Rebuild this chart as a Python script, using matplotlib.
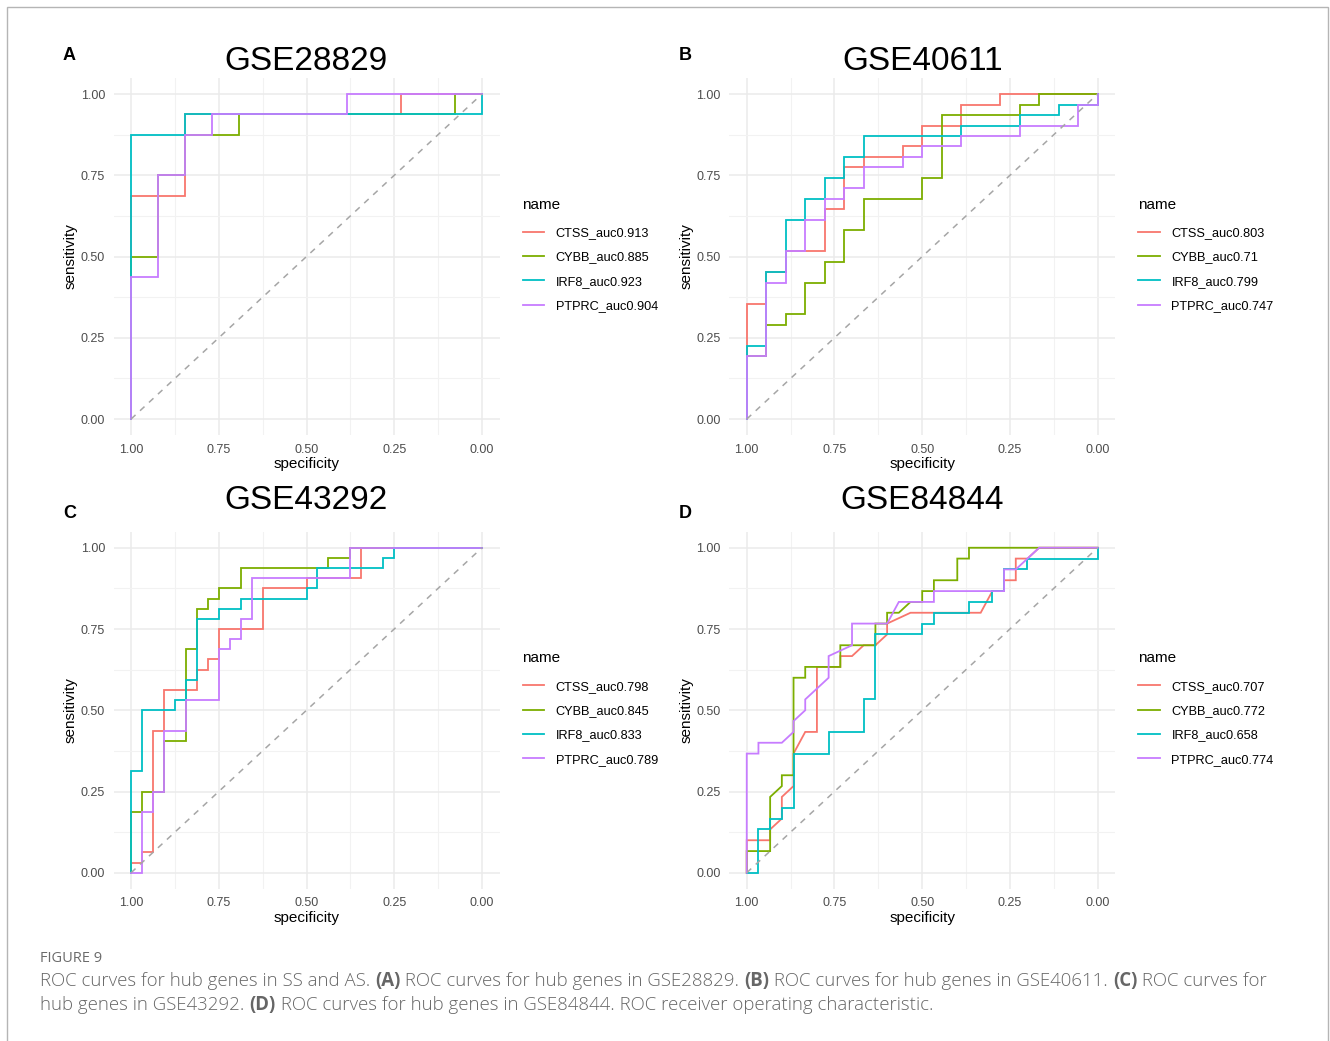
import matplotlib
matplotlib.use("Agg")
import matplotlib.pyplot as plt
from matplotlib.lines import Line2D
from matplotlib.patches import Rectangle

# ROC step paths, stored as (false-positive count, true-positive count)
genes = ["CTSS", "CYBB", "IRF8", "PTPRC"]
colors = ["#F8766D", "#7CAE00", "#00BFC4", "#C77CFF"]

# GSE28829: 13 controls, 16 cases
a_n = (13, 16)
a_auc = ["0.913", "0.885", "0.923", "0.904"]
a_ctss = [(0, 0), (0, 11), (2, 11), (2, 15), (10, 15), (10, 16), (13, 16)]
a_cybb = [(0, 0), (0, 8), (1, 8), (1, 12), (2, 12), (2, 14), (4, 14), (4, 15),
          (12, 15), (12, 16), (13, 16)]
a_irf8 = [(0, 0), (0, 14), (2, 14), (2, 15), (13, 15), (13, 16)]
a_ptprc = [(0, 0), (0, 7), (1, 7), (1, 12), (2, 12), (2, 14), (3, 14), (3, 15),
           (8, 15), (8, 16), (13, 16)]

# GSE40611: 18 controls, 31 cases
b_n = (18, 31)
b_auc = ["0.803", "0.71", "0.799", "0.747"]
b_ctss = [(0, 0), (0, 11), (1, 11), (1, 14), (2, 14), (2, 16), (4, 16), (4, 20),
          (5, 20), (5, 24), (6, 24), (6, 25), (8, 25), (8, 26), (9, 26), (9, 28),
          (11, 28), (11, 30), (13, 30), (13, 31), (18, 31)]
b_cybb = [(0, 0), (0, 6), (1, 6), (1, 9), (2, 9), (2, 10), (3, 10), (3, 13),
          (4, 13), (4, 15), (5, 15), (5, 18), (6, 18), (6, 21), (9, 21), (9, 23),
          (10, 23), (10, 29), (14, 29), (14, 30), (15, 30), (15, 31), (18, 31)]
b_irf8 = [(0, 0), (0, 7), (1, 7), (1, 14), (2, 14), (2, 19), (3, 19), (3, 21),
          (4, 21), (4, 23), (5, 23), (5, 25), (6, 25), (6, 27), (11, 27), (11, 28),
          (14, 28), (14, 29), (16, 29), (16, 30), (18, 30), (18, 31)]
b_ptprc = [(0, 0), (0, 6), (1, 6), (1, 13), (2, 13), (2, 16), (3, 16), (3, 19),
           (4, 19), (4, 21), (5, 21), (5, 22), (6, 22), (6, 24), (8, 24), (8, 25),
           (9, 25), (9, 26), (11, 26), (11, 27), (14, 27), (14, 28), (17, 28),
           (17, 30), (18, 30), (18, 31)]

# GSE43292: 32 controls, 32 cases
c_n = (32, 32)
c_auc = ["0.798", "0.845", "0.833", "0.789"]
c_ctss = [(0, 0), (0, 1), (1, 1), (1, 2), (2, 2), (2, 14), (3, 14), (3, 18),
          (6, 18), (6, 20), (7, 20), (7, 21), (8, 21), (8, 24), (12, 24), (12, 28),
          (16, 28), (16, 29), (21, 29), (21, 32), (32, 32)]
c_cybb = [(0, 0), (0, 6), (1, 6), (1, 8), (3, 8), (3, 13), (5, 13), (5, 22),
          (6, 22), (6, 26), (7, 26), (7, 27), (8, 27), (8, 28), (10, 28), (10, 30),
          (18, 30), (18, 31), (20, 31), (20, 32), (32, 32)]
c_irf8 = [(0, 0), (0, 10), (1, 10), (1, 16), (4, 16), (4, 17), (5, 17), (5, 19),
          (6, 19), (6, 25), (8, 25), (8, 26), (10, 26), (10, 27), (16, 27), (16, 28),
          (17, 28), (17, 30), (23, 30), (23, 31), (24, 31), (24, 32), (32, 32)]
c_ptprc = [(0, 0), (1, 0), (1, 6), (2, 6), (2, 8), (3, 8), (3, 14), (5, 14),
           (5, 17), (8, 17), (8, 22), (9, 22), (9, 23), (10, 23), (10, 25), (11, 25),
           (11, 29), (20, 29), (20, 32), (32, 32)]

# GSE84844: 30 controls, 30 cases (ties give sloped pieces)
d_n = (30, 30)
d_auc = ["0.707", "0.772", "0.658", "0.774"]
d_ctss = [(0, 0), (0, 3), (2, 3), (2, 4), (3, 5), (3, 7), (4, 8), (4, 11), (5, 13),
          (6, 13), (6, 19), (8, 19), (8, 20), (9, 20), (10, 21), (11, 21), (12, 22),
          (12, 23), (14, 24), (20, 24), (21, 26), (22, 26), (22, 27), (23, 27),
          (23, 29), (24, 29), (25, 30), (30, 30)]
d_cybb = [(0, 0), (0, 2), (2, 2), (2, 7), (3, 8), (3, 9), (4, 9), (4, 18), (5, 18),
          (5, 19), (8, 19), (8, 21), (11, 21), (11, 23), (12, 23), (12, 24), (13, 24),
          (14, 25), (15, 25), (15, 26), (16, 26), (16, 27), (18, 27), (18, 29),
          (19, 29), (19, 30), (30, 30)]
d_irf8 = [(0, 0), (1, 0), (1, 4), (2, 4), (2, 5), (3, 5), (3, 6), (4, 6), (4, 11),
          (7, 11), (7, 13), (10, 13), (10, 16), (11, 16), (11, 22), (15, 22),
          (15, 23), (16, 23), (16, 24), (19, 24), (19, 25), (21, 25), (21, 26),
          (22, 26), (22, 28), (24, 28), (24, 29), (30, 29), (30, 30)]
d_ptprc = [(0, 0), (0, 11), (1, 11), (1, 12), (3, 12), (4, 13), (4, 14), (5, 15),
           (5, 16), (7, 18), (7, 20), (9, 21), (9, 23), (12, 23), (13, 25), (16, 25),
           (16, 26), (22, 26), (22, 28), (23, 28), (25, 30), (30, 30)]

W, H = 1330, 1041
fig = plt.figure(figsize=(W / 100, H / 100), dpi=100)
fig.patch.set_facecolor("white")

# thin page frame
fig.add_artist(Rectangle((7 / W, -0.01), (1321) / W, 1 - 7 / H + 0.01,
                         transform=fig.transFigure, fill=False,
                         edgecolor="#b5b5b5", lw=1.0))

FONT = ["Liberation Sans", "DejaVu Sans"]

# letter, title, axes left/top (px), title y, letter y
panels = [
    ("A", "GSE28829", 113.5, 77.8, 62, 55, a_n, [a_ctss, a_cybb, a_irf8, a_ptprc], a_auc),
    ("B", "GSE40611", 729.2, 77.8, 62, 55, b_n, [b_ctss, b_cybb, b_irf8, b_ptprc], b_auc),
    ("C", "GSE43292", 113.5, 531.5, 500.5, 513.5, c_n, [c_ctss, c_cybb, c_irf8, c_ptprc], c_auc),
    ("D", "GSE84844", 729.2, 531.5, 500.5, 513.5, d_n, [d_ctss, d_cybb, d_irf8, d_ptprc], d_auc),
]
AX_W, AX_H = 386.0, 357.5

for letter, title, left, top, title_y, letter_y, (n_ctrl, n_case), curves, aucs in panels:
    ax = fig.add_axes([left / W, 1 - (top + AX_H) / H, AX_W / W, AX_H / H])
    ax.set_xlim(1.05, -0.05)
    ax.set_ylim(-0.05, 1.05)
    ticks = [1.0, 0.75, 0.5, 0.25, 0.0]
    labels = ["1.00", "0.75", "0.50", "0.25", "0.00"]
    ax.set_xticks(ticks)
    ax.set_xticklabels(labels, family=FONT)
    ax.set_yticks(ticks)
    ax.set_yticklabels(labels, family=FONT)
    ax.set_xticks([0.875, 0.625, 0.375, 0.125], minor=True)
    ax.set_yticks([0.875, 0.625, 0.375, 0.125], minor=True)
    ax.grid(which="major", color="#ebebeb", lw=1.1)
    ax.grid(which="minor", color="#f2f2f2", lw=0.8)
    ax.set_axisbelow(True)
    ax.tick_params(which="both", length=0, labelsize=9, colors="#4d4d4d", pad=6)
    for s in ax.spines.values():
        s.set_visible(False)

    handles = []
    for gene, col, pts, auc in zip(genes, colors, curves, aucs):
        spec = [1 - p[0] / n_ctrl for p in pts]
        sens = [p[1] / n_case for p in pts]
        ax.plot(spec, sens, color=col, lw=1.3, solid_joinstyle="miter")
        handles.append(Line2D([], [], color=col, lw=1.3, label=f"{gene}_auc{auc}"))

    ax.plot([1, 0], [0, 1], color="#a6a6a6", lw=1.1, ls=(0, (4, 4)), zorder=5)

    ax.set_xlabel("specificity", fontsize=11, family=FONT, labelpad=1)
    ax.set_ylabel("sensitivity", fontsize=11, family=FONT, labelpad=2)

    leg = ax.legend(handles=handles, title="name", loc="upper left",
                    bbox_to_anchor=((left + 409) / W, 1 - (top + 120) / H),
                    bbox_transform=fig.transFigure, frameon=False,
                    borderpad=0, borderaxespad=0, alignment="left",
                    handlelength=1.7, handletextpad=0.9, labelspacing=0.97,
                    prop={"family": FONT, "size": 9.2})
    leg.get_title().set_fontsize(11)
    leg.get_title().set_family(FONT)
    leg._legend_box.sep = 11

    cx = left + AX_W / 2
    fig.text(cx / W, 1 - title_y / H, title, ha="center", va="center",
             fontsize=24, family=FONT)
    fig.text((left - 44) / W, 1 - letter_y / H, letter, ha="center",
             va="center", fontsize=13, fontweight="bold", family=FONT)

# caption
CAP = ["Open Sans", "DejaVu Sans"]
fig.text(40 / W, 1 - 958 / H, "FIGURE 9", fontsize=10.5, color="#6b6b6b",
         family=CAP, va="center")

cap_lines = [
    [("ROC curves for hub genes in SS and AS. ", False), ("(A)", True),
     (" ROC curves for hub genes in GSE28829. ", False), ("(B)", True),
     (" ROC curves for hub genes in GSE40611. ", False), ("(C)", True),
     (" ROC curves for", False)],
    [("hub genes in GSE43292. ", False), ("(D)", True),
     (" ROC curves for hub genes in GSE84844. ROC receiver operating characteristic.", False)],
]
renderer = fig.canvas.get_renderer()
for row, y in zip(cap_lines, [981, 1005]):
    x = 40.0
    for txt, bold in row:
        t = fig.text(x / W, 1 - y / H, txt, fontsize=13.45, color="#666666",
                     family=CAP, va="center",
                     fontweight="bold" if bold else "light")
        x += t.get_window_extent(renderer).width

fig.savefig("out.png", dpi=100, facecolor="white")
